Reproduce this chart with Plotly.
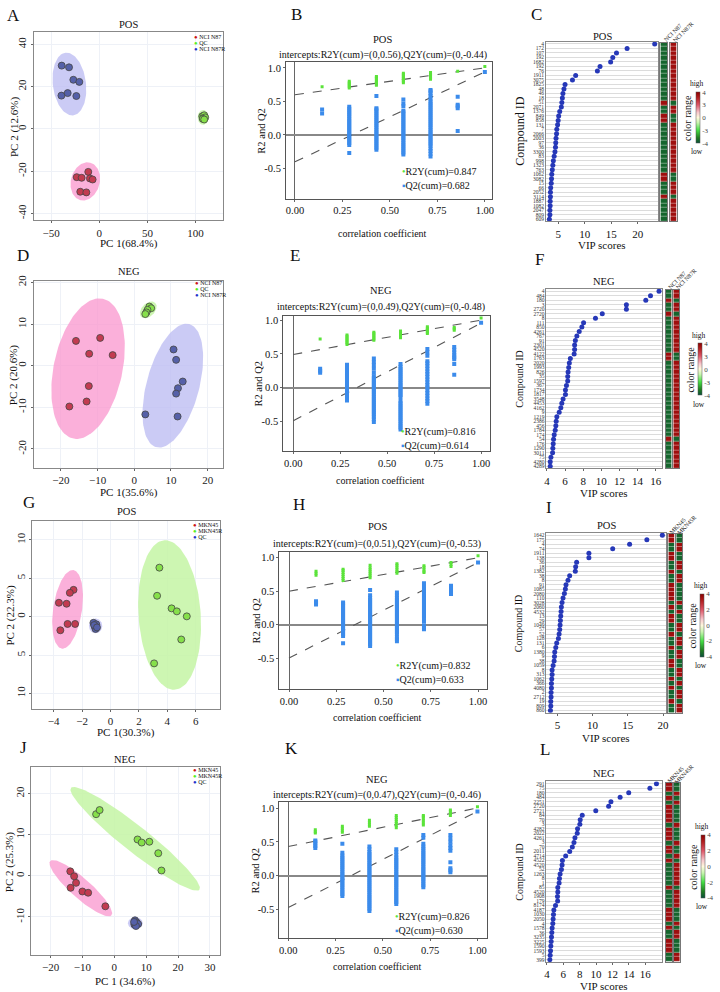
import numpy as np
import plotly.graph_objects as go

W, H = 720, 992
FONT = "Liberation Serif"

# ======================= DATA =======================
# ---- PCA score plots (A, D, G, J) ----
A_N87_X = [-11.4, -23.4, -18.3, -9.7, -6.9, -19.7, -13.4]
A_N87_Y = [-20.3, -22.8, -23.1, -23.4, -23.9, -29.7, -30.0]
A_QC_X = [107.0, 109.0, 108.0, 110.0, 107.5, 109.0]
A_QC_Y = [6.0, 6.5, 5.0, 5.5, 4.8, 4.5]
A_N87R_X = [-39.0, -31.4, -26.9, -20.7, -39.3, -32.8, -23.8]
A_N87R_Y = [30.0, 29.2, 23.3, 22.3, 15.8, 17.0, 15.6]
# ellipse: centre x, centre y, semi-axis a (px), semi-axis b (px), angle of a (deg)
A_N87_ELL = [-14.5, -24.8, 19.5, 14.5, 75]
A_QC_ELL = [107.9, 5.5, 7.5, 5.5, 90]
A_N87R_ELL = [-31.0, 21.3, 31.8, 16.7, 97]

D_N87_X = [-15.9, -9.3, -12.3, -5.9, -12.4, -13.0, -17.7]
D_N87_Y = [5.95, 6.67, 2.86, 2.54, -4.9, -8.6, -9.8]
D_QC_X = [4.1, 4.6, 3.6, 3.3, 3.0]
D_QC_Y = [14.2, 13.8, 13.4, 12.8, 12.4]
D_N87R_X = [10.7, 11.4, 13.2, 11.9, 11.4, 3.0, 11.8]
D_N87R_Y = [3.9, 1.4, -3.8, -5.4, -6.7, -11.7, -12.2]
D_N87_ELL = [-12.6, -0.7, 72, 34.6, 78]
D_QC_ELL = [3.8, 13.4, 10, 6.5, 45]
D_N87R_ELL = [10.5, -4.8, 64.2, 26.5, 75]

G_M45_X = [-2.6, -2.86, -3.63, -3.09, -3.02, -2.49, -3.53]
G_M45_Y = [3.49, 3.10, 1.81, 1.68, -0.95, -0.95, -1.77]
G_M45R_X = [3.44, 3.28, 4.30, 4.67, 5.37, 4.98, 3.07]
G_M45R_Y = [6.38, 2.72, 1.08, 0.69, 0.04, -2.97, -6.08]
G_QC_X = [-1.2, -1.0, -1.1, -1.05, -1.15, -0.95]
G_QC_Y = [-0.8, -1.0, -1.3, -1.6, -1.1, -1.4]
G_M45_ELL = [-3.02, 0.95, 40, 14.5, 81.6]
G_M45R_ELL = [4.16, 0.22, 75.5, 31.3, 94]
G_QC_ELL = [-1.05, -1.2, 7.5, 6.7, 90]

J_M45_X = [-13.8, -12.6, -12.0, -13.7, -10.0, -8.2, -2.8]
J_M45_Y = [1.1, -0.1, -1.7, -2.9, -3.8, -4.1, -7.4]
J_M45R_X = [-5.7, -4.6, 7.3, 8.6, 11.0, 13.8, 14.8]
J_M45R_Y = [15.0, 16.0, 8.85, 8.1, 8.3, 5.5, 1.3]
J_QC_X = [6.5, 7.0, 6.3, 7.5, 6.8, 6.2]
J_QC_Y = [-10.8, -11.3, -11.8, -11.7, -12.2, -11.2]
J_M45_ELL = [-10.5, -3.0, 41.2, 10, -41.6]
J_M45R_ELL = [6.55, 9.0, 82.5, 13, -38.4]
J_QC_ELL = [6.6, -11.5, 7.5, 6.0, 0]

# ---- permutation tests (B, E, H, K) ----
PERM_X = [0.143, 0.286, 0.429, 0.571, 0.714, 0.857, 1.0]
PERM_TICKS = [0.0, 0.25, 0.5, 0.75, 1.0]
PERM_TICKTEXT = ["0.00", "0.25", "0.50", "0.75", "1.00"]
PERM_YTICKS = [-0.5, 0.0, 0.5, 1.0]
PERM_YTICKTEXT = ["-0.5", "0.0", "0.5", "1.0"]

B_R2 = [[0.72], [0.70, 0.72, 0.74, 0.76, 0.78, 0.80],
        [0.74, 0.76, 0.78, 0.80, 0.82, 0.84, 0.86, 0.87],
        [0.78, 0.80, 0.82, 0.84, 0.86, 0.88, 0.90, 0.92],
        [0.83, 0.85, 0.87, 0.89, 0.91, 0.93], [0.95], [1.02]]
B_Q2 = [[0.32, 0.38],
        [-0.27, -0.15, -0.12, -0.09, -0.06, -0.03, 0.00, 0.03, 0.06, 0.09, 0.12, 0.15, 0.18, 0.21, 0.24, 0.27, 0.30, 0.33, 0.36, 0.39, 0.42],
        [-0.22, -0.19, -0.16, -0.13, -0.10, -0.07, -0.04, -0.01, 0.02, 0.05, 0.08, 0.11, 0.14, 0.17, 0.20, 0.23, 0.26, 0.29, 0.32, 0.35, 0.38, 0.40, 0.58],
        [-0.29, -0.26, -0.23, -0.20, -0.17, -0.14, -0.11, -0.08, -0.05, -0.02, 0.01, 0.04, 0.07, 0.10, 0.13, 0.16, 0.19, 0.22, 0.25, 0.28, 0.31, 0.34, 0.36, 0.43, 0.47, 0.53],
        [-0.32, -0.28, -0.24, -0.20, -0.16, -0.13, -0.10, -0.07, -0.04, -0.01, 0.02, 0.05, 0.08, 0.11, 0.14, 0.17, 0.20, 0.23, 0.26, 0.29, 0.32, 0.35, 0.38, 0.41, 0.44, 0.47, 0.50, 0.54, 0.58, 0.62, 0.65, 0.67],
        [0.06, 0.40, 0.43, 0.45, 0.57], [0.94]]
B_R2_LINE = [0.60, 1.0]
B_Q2_LINE = [-0.40, 0.94]

E_R2 = [[0.72], [0.64, 0.66, 0.68, 0.70, 0.72, 0.74, 0.76, 0.78],
        [0.70, 0.72, 0.74, 0.76, 0.78, 0.80, 0.82],
        [0.74, 0.76, 0.78, 0.80, 0.82, 0.84],
        [0.80, 0.82, 0.84, 0.86, 0.88, 0.90], [0.85, 0.87, 0.89], [1.03]]
E_Q2 = [[0.22, 0.25, 0.28],
        [-0.19, -0.15, -0.12, -0.09, -0.06, -0.03, 0.00, 0.03, 0.06, 0.09, 0.12, 0.15, 0.18, 0.21, 0.24, 0.27, 0.30, 0.34],
        [-0.51, -0.47, -0.43, -0.40, -0.37, -0.34, -0.31, -0.28, -0.25, -0.22, -0.19, -0.16, -0.13, -0.10, -0.07, -0.04, -0.01, 0.02, 0.05, 0.08, 0.11, 0.14, 0.17, 0.22, 0.28, 0.33, 0.38, 0.43],
        [-0.62, -0.59, -0.56, -0.53, -0.50, -0.47, -0.44, -0.41, -0.38, -0.35, -0.32, -0.29, -0.26, -0.23, -0.20, -0.14, -0.11, -0.08, -0.05, -0.02, 0.01, 0.04, 0.07, 0.10, 0.13, 0.16, 0.19, 0.22, 0.25, 0.28, 0.31, 0.35],
        [-0.24, -0.20, -0.16, -0.12, -0.08, -0.04, 0.00, 0.04, 0.08, 0.12, 0.16, 0.20, 0.24, 0.28, 0.32, 0.36, 0.39, 0.47, 0.52, 0.57],
        [0.19, 0.35, 0.42, 0.45, 0.48, 0.52, 0.56, 0.60], [0.96]]
E_R2_LINE = [0.49, 1.0]
E_Q2_LINE = [-0.49, 0.955]

H_R2 = [[0.74, 0.77, 0.80], [0.66, 0.69, 0.72, 0.75, 0.78, 0.81, 0.83],
        [0.70, 0.73, 0.76, 0.79, 0.82, 0.85, 0.89],
        [0.77, 0.80, 0.83, 0.86, 0.89, 0.91],
        [0.78, 0.80, 0.83, 0.86, 0.88], [0.87, 0.90, 0.93], [1.03]]
H_Q2 = [[0.30, 0.33, 0.35],
        [-0.28, -0.17, -0.14, -0.11, -0.08, -0.05, -0.02, 0.01, 0.04, 0.07, 0.10, 0.13, 0.16, 0.19, 0.22, 0.25, 0.28, 0.31, 0.33],
        [-0.32, -0.29, -0.26, -0.23, -0.20, -0.17, -0.14, -0.11, -0.08, -0.05, -0.02, 0.01, 0.04, 0.07, 0.10, 0.13, 0.16, 0.19, 0.22, 0.25, 0.28, 0.31, 0.34, 0.37, 0.40, 0.44, 0.52],
        [-0.25, -0.22, -0.19, -0.14, -0.11, -0.08, -0.05, -0.02, 0.01, 0.04, 0.07, 0.10, 0.13, 0.16, 0.19, 0.22, 0.25, 0.28, 0.31, 0.34, 0.37, 0.40, 0.44, 0.48],
        [-0.07, -0.04, -0.01, 0.05, 0.10, 0.13, 0.16, 0.19, 0.22, 0.25, 0.28, 0.31, 0.34, 0.37, 0.40, 0.43, 0.46, 0.50, 0.53, 0.57, 0.62],
        [0.46, 0.49, 0.52, 0.55, 0.58], [0.93]]
H_R2_LINE = [0.50, 1.0]
H_Q2_LINE = [-0.50, 0.93]

K_R2 = [[0.63, 0.65, 0.68], [0.64, 0.67, 0.70, 0.73], [0.73, 0.76, 0.79, 0.82],
        [0.71, 0.74, 0.77, 0.80, 0.83, 0.86, 0.89],
        [0.75, 0.78, 0.81, 0.84, 0.87, 0.89], [0.89, 0.92, 0.95, 0.97], [1.02]]
K_Q2 = [[0.41, 0.44, 0.47, 0.50, 0.52],
        [-0.30, -0.27, -0.24, -0.21, -0.18, -0.15, -0.12, -0.09, -0.06, -0.03, 0.00, 0.03, 0.06, 0.09, 0.12, 0.15, 0.18, 0.21, 0.24, 0.27, 0.30, 0.34, 0.47],
        [-0.52, -0.49, -0.46, -0.43, -0.40, -0.37, -0.34, -0.31, -0.28, -0.25, -0.22, -0.19, -0.16, -0.13, -0.10, -0.07, -0.04, -0.01, 0.02, 0.05, 0.08, 0.11, 0.14, 0.17, 0.20, 0.23, 0.26, 0.29, 0.32, 0.35, 0.39, 0.43],
        [-0.42, -0.39, -0.36, -0.33, -0.30, -0.27, -0.24, -0.21, -0.18, -0.15, -0.12, -0.09, -0.06, -0.03, 0.00, 0.03, 0.06, 0.09, 0.12, 0.15, 0.18, 0.21, 0.24, 0.27, 0.31, 0.35, 0.39],
        [-0.17, -0.14, -0.11, -0.08, -0.05, -0.02, 0.01, 0.04, 0.07, 0.10, 0.13, 0.16, 0.19, 0.22, 0.25, 0.28, 0.31, 0.34, 0.37, 0.40, 0.43, 0.47, 0.56, 0.60],
        [0.05, 0.08, 0.11, 0.20, 0.37, 0.41, 0.45, 0.50, 0.55, 0.60], [0.95]]
K_R2_LINE = [0.43, 1.0]
K_Q2_LINE = [-0.47, 0.95]

# ---- VIP plots (C, F, I, L) ----
C_VIP = [23.2, 18.0, 16.0, 15.3, 14.9, 12.9, 12.4, 8.3, 7.7, 6.3, 6.1, 5.9, 5.8, 5.7, 5.6, 5.3, 5.1, 5.0, 4.9, 4.75,
         4.7, 4.6, 4.55, 4.5, 4.4, 4.25, 4.1, 4.0, 3.9, 3.8, 3.75, 3.7, 3.6, 3.55, 3.55, 3.5, 3.5, 3.45, 3.45, 3.35]
C_IDS = ["4", "172", "107", "192", "1682", "192", "76", "1911", "3075", "1825", "48", "46", "18", "51", "2071", "1376",
         "849", "858", "131", "7", "2066", "2003", "97", "36", "3300", "83", "998", "1323", "763", "1062",
         "3082", "15", "66", "2052", "3114", "1887", "1082", "2047", "809", "609"]
C_HEAT = [-3.6] * 13 + [3.6] + [-3.6] * 2 + [3.6, 3.6] + [-3.6] * 11 + [3.6, 3.6] + [-3.6] * 3 + [3.6] + [-3.6] * 5

F_VIP = [16.36, 15.42, 14.9, 12.76, 12.76, 10.1, 9.35, 8.04, 7.85, 7.56, 7.3, 7.13, 7.05, 7.05, 7.0, 6.58, 6.47, 6.4,
         6.33, 6.29, 6.29, 6.15, 6.04, 6.04, 5.78, 5.64, 5.53, 5.35, 5.09, 5.02, 4.98, 4.91, 4.8, 4.73, 4.69, 4.65,
         4.62, 4.44, 4.36, 4.36]
F_IDS = ["4", "484", "180", "3", "2720", "2720", "8", "111", "850", "4261", "767", "91", "2301", "4520", "4122",
         "1763", "2020", "1993", "826", "35", "1597", "367", "1734", "1817", "3548", "4453", "4162", "9", "1219",
         "2386", "456", "1784", "174", "54", "176", "1290", "3011", "75", "4280", "4289"]
F_HEAT = [-3.6] * 2 + [3.6] + [-3.6] * 2 + [3.6] + [-3.6] * 8 + [3.6, 3.6] + [-3.6] * 17 + [3.6] + [-3.6] * 6

I_VIP = [19.9, 17.7, 15.25, 12.85, 9.47, 9.47, 7.73, 7.59, 7.54, 6.74, 6.5, 6.22, 6.13, 5.99, 5.8, 5.66, 5.56, 5.52,
         5.47, 5.42, 5.38, 5.33, 5.24, 5.14, 4.9, 4.77, 4.62, 4.58, 4.53, 4.39, 4.25, 4.25, 4.2, 4.15, 4.15, 4.1,
         4.1, 4.06, 4.06, 4.01]
I_IDS = ["1642", "175", "4", "74", "1911", "138", "36", "18", "1382", "38", "8", "91", "1085", "2080", "110", "3028",
         "2060", "4532", "13", "29", "1049", "57", "52", "128", "131", "6", "1380", "9", "38", "1059", "8", "313",
         "1062", "366", "4080", "2", "2712", "19", "809", "860"]
I_HEAT = [3.6, 3.6, -3.6, -3.6, 3.6, 3.6, -3.6, -3.6, 3.6, -3.6, -3.6, 3.6, 3.6, 3.6, 3.6, -3.6, 3.6, -3.6, 3.6, 3.6,
          -3.6, -3.6, 3.6, -3.6, -3.6, 3.6, -3.6, -3.6, 3.6, 3.6, -3.6, -3.6, 3.6, -3.6, 3.6, -3.6, -3.6, 3.6, -3.6, -3.6]

L_VIP = [17.36, 16.56, 13.98, 12.93, 11.81, 11.53, 9.96, 8.31, 8.06, 8.02, 7.74, 7.70, 7.42, 7.30, 7.10, 6.78, 6.29,
         5.89, 5.85, 5.77, 5.61, 5.53, 5.49, 5.33, 5.33, 5.29, 5.31, 5.05, 4.85, 4.80, 4.76, 4.72, 4.64, 4.60, 4.56,
         4.52, 4.48, 4.44, 4.40, 4.36]
L_IDS = ["291", "75", "180", "484", "2251", "2720", "2721", "84", "70", "3", "4282", "2022", "4261", "3", "70", "2011",
         "4714", "4522", "4520", "52", "1263", "8", "1", "85", "4520", "1908", "179", "8174", "4187", "1030", "2050",
         "4", "1578", "36", "3235", "3225", "1590", "1593", "5", "399"]
L_HEAT = [3.6, 3.6, -3.6, 3.6, -3.6, 3.6, 3.6, 3.6, 3.6, -3.6, 3.6, 3.6, 3.6, -3.6, 3.6, 3.6, -3.6, 3.6, -3.6, -3.6,
          -3.6, -3.6, -3.6, 3.6, -3.6, -3.6, -3.6, -3.6, 3.6, 3.6, 3.6, -3.6, 3.6, -3.6, -3.6, 3.6, 3.6, 3.6, -3.6, -3.6]

# ======================= STYLE =======================
RED, GREEN, BLUE = "#c23b50", "#86e04a", "#5560a8"
RED_FILL, GREEN_FILL, BLUE_FILL = "rgba(249,150,205,0.75)", "rgba(196,245,165,0.85)", "rgba(190,190,242,0.8)"
LEG_RED, LEG_GREEN, LEG_BLUE = "#cc1111", "#55ee22", "#2233cc"
R2_COL, Q2_COL = "#5be33a", "#3b8beb"
HEAT_SCALE = [[0.0, "#0b4f3a"], [0.1, "#1f7a1f"], [0.25, "#44dd44"], [0.4, "#c8f5b0"], [0.5, "#fff8dc"],
              [0.6, "#f7c6cc"], [0.75, "#dd5566"], [0.9, "#b01c1c"], [1.0, "#8b0000"]]

fig = go.Figure()
ANN = []
AXN = [0]


def px(x):
    return x / W


def py(y):
    return 1 - y / H


def txt(x, y, text, size, angle=0, color="#111", xanchor="center", yanchor="middle", borderpad=1):
    ANN.append(dict(x=px(x), y=py(y), xref="paper", yref="paper", text=text, showarrow=False,
                    font=dict(family=FONT, size=size, color=color), textangle=angle,
                    xanchor=xanchor, yanchor=yanchor, borderpad=borderpad))


def axes(box, xkw, ykw):
    AXN[0] += 1
    s = "" if AXN[0] == 1 else str(AXN[0])
    x0, x1, y0, y1 = box
    base = dict(showgrid=False, zeroline=False, showline=True, mirror=True, linewidth=1,
                linecolor="#888", ticks="outside", ticklen=2, tickwidth=1, tickcolor="#666",
                tickfont=dict(family=FONT, size=11, color="#222"))
    xa = dict(base); xa.update(domain=[px(x0), px(x1)], anchor="y" + s); xa.update(xkw)
    ya = dict(base); ya.update(domain=[py(y1), py(y0)], anchor="x" + s); ya.update(ykw)
    fig.update_layout({"xaxis" + s: xa, "yaxis" + s: ya})
    return "x" + s, "y" + s


def ellipse_xy(par, sx, sy):
    cx, cy, a, b, ang = par
    t = np.linspace(0, 2 * np.pi, 120)
    th = np.radians(ang)
    dx = a * np.cos(t) * np.cos(th) - b * np.sin(t) * np.sin(th)
    dy = a * np.cos(t) * np.sin(th) + b * np.sin(t) * np.cos(th)
    return cx + dx / sx, cy + dy / sy


def pca_panel(box, xr, yr, xt, yt, ytt, groups, legend, title, xlab, ylab, letter, lpos, ty, xly, ylx, legpos):
    xa, ya = axes(box,
                  dict(range=xr, tickvals=xt, showgrid=True, gridcolor="#eef1f7"),
                  dict(range=yr, tickvals=yt, ticktext=ytt, tickangle=-90, showgrid=True, gridcolor="#eef1f7"))
    sx = (box[1] - box[0]) / (xr[1] - xr[0])
    sy = (box[3] - box[2]) / (yr[1] - yr[0])
    for gx, gy, col, fill, ell in groups:
        ex, ey = ellipse_xy(ell, sx, sy)
        fig.add_trace(go.Scatter(x=ex, y=ey, xaxis=xa, yaxis=ya, mode="lines", fill="toself",
                                 fillcolor=fill, line=dict(width=0), hoverinfo="skip"))
    for gx, gy, col, fill, ell in groups:
        fig.add_trace(go.Scatter(x=gx, y=gy, xaxis=xa, yaxis=ya, mode="markers",
                                 marker=dict(size=7, color=col, line=dict(width=0.8, color="#444"))))
    cx = (box[0] + box[1]) / 2
    txt(cx, ty, title, 10.5)
    txt(cx, xly, xlab, 11)
    txt(ylx, (box[2] + box[3]) / 2, ylab, 11, angle=-90)
    txt(lpos[0], lpos[1], letter, 17)
    for i, (name, col) in enumerate(legend):
        txt(legpos[0], legpos[1] + i * 6, '<span style="color:%s">●</span> %s' % (col, name), 6, xanchor="left")


def perm_panel(box, xr, yr, r2, q2, r2line, q2line, title, sub, r2txt, q2txt, letter, lpos, ty, sy_, xly, ylx, legpos):
    xa, ya = axes(box,
                  dict(range=xr, tickvals=PERM_TICKS, ticktext=PERM_TICKTEXT, linecolor="#555",
                       zeroline=True, zerolinecolor="#666", zerolinewidth=1, tickfont=dict(family=FONT, size=10.5)),
                  dict(range=yr, tickvals=PERM_YTICKS, ticktext=PERM_YTICKTEXT, linecolor="#555",
                       zeroline=True, zerolinecolor="#888", zerolinewidth=1.5, tickfont=dict(family=FONT, size=10.5)))
    fig.add_trace(go.Scatter(x=[0, 1], y=r2line, xaxis=xa, yaxis=ya, mode="lines",
                             line=dict(color="#555", width=1.1, dash="dash")))
    fig.add_trace(go.Scatter(x=[0, 1], y=q2line, xaxis=xa, yaxis=ya, mode="lines",
                             line=dict(color="#555", width=1.1, dash="dash")))
    qx = [PERM_X[i] for i, v in enumerate(q2) for _ in v]
    qy = [y for v in q2 for y in v]
    rx = [PERM_X[i] for i, v in enumerate(r2) for _ in v]
    ry = [y for v in r2 for y in v]
    fig.add_trace(go.Scatter(x=qx, y=qy, xaxis=xa, yaxis=ya, mode="markers",
                             marker=dict(symbol="square", size=4, color=Q2_COL, line=dict(width=0))))
    fig.add_trace(go.Scatter(x=rx, y=ry, xaxis=xa, yaxis=ya, mode="markers",
                             marker=dict(symbol="square", size=3, color=R2_COL, line=dict(width=0))))
    cx = (box[0] + box[1]) / 2
    txt(cx - 6, ty, title, 10.5)
    txt(cx - 6, sy_, sub, 10)
    txt(cx - 6, xly, "correlation coefficient", 10)
    txt(ylx, (box[2] + box[3]) / 2, "R2 and Q2", 10.5, angle=-90)
    txt(lpos[0], lpos[1], letter, 17)
    txt(legpos[0], legpos[1] + 0.5, '<span style="color:%s">•</span>%s' % (R2_COL, r2txt), 10,
        xanchor="left", yanchor="bottom", borderpad=0)
    txt(legpos[0], legpos[1] + 0.5, '<span style="color:%s">▪</span>%s' % (Q2_COL, q2txt), 10,
        xanchor="left", yanchor="top", borderpad=0)


def vip_panel(box, xr, xt, vals, ids, heat, hbox1, hbox2, colnames, cb, cbtext, title, letter, lpos, ty,
              xly, ylx, cid_size):
    n = len(vals)
    rows = list(range(n))
    yrng = [n - 0.5, -0.5]
    xa, ya = axes(box,
                  dict(range=xr, tickvals=xt, tickfont=dict(family=FONT, size=11)),
                  dict(range=yrng, tickvals=rows, ticktext=ids, ticks="", showgrid=True,
                       gridcolor="#dcdcdc", gridwidth=1, tickfont=dict(family=FONT, size=5.5, color="#333")))
    fig.add_trace(go.Scatter(x=vals, y=rows, xaxis=xa, yaxis=ya, mode="markers",
                             marker=dict(size=5, color="#2638b8")))
    cols = [heat, [-v for v in heat]]
    for k, hb in enumerate([hbox1, hbox2]):
        hx, hy = axes(hb, dict(range=[-0.5, 0.5], ticks="", showticklabels=False, linecolor="#777"),
                      dict(range=yrng, ticks="", showticklabels=False, linecolor="#777"))
        trace = go.Heatmap(z=[[v] for v in cols[k]], x=[0], y=rows, xaxis=hx, yaxis=hy,
                           colorscale=HEAT_SCALE, zmin=-4, zmax=4, ygap=0.4,
                           showscale=(k == 0))
        if k == 0:
            trace.colorbar = dict(x=px(cb[0]), xanchor="left", y=py((cb[2] + cb[3]) / 2), yanchor="middle",
                                  len=cb[3] - cb[2], lenmode="pixels", thickness=cb[1] - cb[0],
                                  thicknessmode="pixels", xpad=0, ypad=0, outlinewidth=0.5, outlinecolor="#555",
                                  tickvals=[4, 2, 0, -2, -4], ticktext=cbtext, ticks="",
                                  tickfont=dict(family=FONT, size=7, color="#444"))
        fig.add_trace(trace)
        ccx = (hb[0] + hb[1]) / 2
        L = len(colnames[k]) * 3.1
        txt(ccx + L * 0.36 + 1, hb[2] - L * 0.36 - 2, colnames[k], 6, angle=-45)
    txt(cb[0] + 1, cb[2] - 8.5, "high", 7.5)
    txt(cb[0] + 1, cb[3] + 9, "low", 7.5)
    txt(cb[0] - 8, (cb[2] + cb[3]) / 2, "color range", 10, angle=-90)
    cx = (box[0] + box[1]) / 2
    txt(cx, ty, title, 10.5)
    txt(cx, xly, "VIP scores", 11)
    txt(ylx, (box[2] + box[3]) / 2, "Compound ID", cid_size, angle=-90)
    txt(lpos[0], lpos[1], letter, 17)


# ======================= PANELS =======================
LEG1 = [("NCI N87", LEG_RED), ("QC", LEG_GREEN), ("NCI N87R", LEG_BLUE)]
LEG2 = [("MKN45", LEG_RED), ("MKN45R", LEG_GREEN), ("QC", LEG_BLUE)]

pca_panel((32, 223, 26, 216), [-68, 129], [-43.3, 46], [-50, 0, 50, 100], [-40, -20, 0, 20, 40],
          ["-40", "-20", "0", "20", "40"],
          [(A_N87_X, A_N87_Y, RED, RED_FILL, A_N87_ELL), (A_QC_X, A_QC_Y, GREEN, GREEN_FILL, A_QC_ELL),
           (A_N87R_X, A_N87R_Y, BLUE, BLUE_FILL, A_N87R_ELL)],
          LEG1, "POS", "PC 1(68.4%)", "PC 2 (12.6%)", "A", (12, 10), 19, 239.5, 12, (191.5, 31))

pca_panel((32, 223, 276.7, 465), [-27.4, 24.3], [-24.5, 20.4], [-20, -10, 0, 10, 20], [-20, -10, 0, 10, 20],
          ["-20", "-10", "0", "10", "20"],
          [(D_N87_X, D_N87_Y, RED, RED_FILL, D_N87_ELL), (D_QC_X, D_QC_Y, GREEN, GREEN_FILL, D_QC_ELL),
           (D_N87R_X, D_N87R_Y, BLUE, BLUE_FILL, D_N87R_ELL)],
          LEG1, "NEG", "PC 1(35.6%)", "PC 2 (20.6%)", "D", (21, 251), 267.7, 490, 11, (192.5, 279))

pca_panel((30.7, 220, 518.3, 707.7), [-5.49, 7.74], [-11.98, 12.5], [-4, -2, 0, 2, 4, 6], [-10, -5, 0, 5, 10],
          ["10", "5", "0", "5", "10"],
          [(G_M45_X, G_M45_Y, RED, RED_FILL, G_M45_ELL), (G_M45R_X, G_M45R_Y, GREEN, GREEN_FILL, G_M45R_ELL),
           (G_QC_X, G_QC_Y, BLUE, BLUE_FILL, G_QC_ELL)],
          LEG2, "POS", "PC 1(30.3%)", "PC 2 (22.3%)", "G", (27, 500), 509, 731.5, 9, (190.5, 522.3))

pca_panel((29.3, 219.3, 766.7, 956), [-26.1, 33.1], [-19.3, 26.4], [-20, -10, 0, 10, 20, 30], [-10, 0, 10, 20],
          ["-10", "0", "10", "20"],
          [(J_M45_X, J_M45_Y, RED, RED_FILL, J_M45_ELL), (J_M45R_X, J_M45R_Y, GREEN, GREEN_FILL, J_M45R_ELL),
           (J_QC_X, J_QC_Y, BLUE, BLUE_FILL, J_QC_ELL)],
          LEG2, "NEG", "PC 1 (34.6%)", "PC 2 (25.3%)", "J", (22, 747), 759, 982.5, 7, (190, 769.7))

perm_panel((286, 493.3, 56.7, 194), [-0.047, 1.037], [-0.948, 1.083], B_R2, B_Q2, B_R2_LINE, B_Q2_LINE, "POS",
           "intercepts:R2Y(cum)=(0,0.56),Q2Y(cum)=(0,-0.44)", "R2Y(cum)=0.847", "Q2(cum)=0.682",
           "B", (297, 9), 34, 49, 229.5, 261, (402, 173.5))
perm_panel((283.3, 491.7, 311.7, 448.3), [-0.053, 1.049], [-0.941, 1.068], E_R2, E_Q2, E_R2_LINE, E_Q2_LINE, "NEG",
           "intercepts:R2Y(cum)=(0,0.49),Q2Y(cum)=(0,-0.48)", "R2Y(cum)=0.816", "Q2(cum)=0.614",
           "E", (295, 251), 286.7, 302.7, 478, 258, (401, 435.5))
perm_panel((279.3, 488.7, 550, 688.3), [-0.051, 1.049], [-0.97, 1.085], H_R2, H_Q2, H_R2_LINE, H_Q2_LINE, "POS",
           "intercepts:R2Y(cum)=(0,0.51),Q2Y(cum)=(0,-0.53)", "R2Y(cum)=0.832", "Q2(cum)=0.633",
           "H", (299, 502), 524.3, 542.3, 717, 256.5, (395.5, 671.2))
perm_panel((279.3, 488.3, 801.7, 939), [-0.047, 1.05], [-0.926, 1.088], K_R2, K_Q2, K_R2_LINE, K_Q2_LINE, "NEG",
           "intercepts:R2Y(cum)=(0,0.47),Q2Y(cum)=(0,-0.46)", "R2Y(cum)=0.826", "Q2(cum)=0.630",
           "K", (292, 748), 779.3, 795, 967.5, 255, (394.5, 923.8))

vip_panel((548, 661, 36, 217), [2.75, 23.9], [5, 10, 15, 20], C_VIP, C_IDS, C_HEAT,
          (663, 670, 37, 217), (673, 679.5, 37, 217), ["NCI N87", "NCI N87R"], (699, 703, 87, 138),
          ["4", "3", "0", "-3", "-4"], "POS", "C", (538, 9), 30.7, 241, 521.7, 12)
vip_panel((548.3, 665, 285, 465.7), [3.95, 16.73], [4, 6, 8, 10, 12, 14, 16], F_VIP, F_IDS, F_HEAT,
          (668.3, 674.3, 285.7, 465.7), (676, 682, 285.7, 465.7), ["NCI N87", "NCI N87R"], (701, 705, 340, 392),
          ["4", "3", "0", "-3", "-4"], "NEG", "F", (541.7, 255), 277.3, 490.5, 521.7, 10)
vip_panel((548.3, 668.3, 530.7, 711.7), [3.45, 20.37], [5, 10, 15, 20], I_VIP, I_IDS, I_HEAT,
          (671, 677.3, 531.7, 711.7), (679, 685, 531.7, 711.7), ["MKN45", "MKN45R"], (703.3, 707.3, 592, 655),
          ["4", "2", "0", "-2", "-4"], "POS", "I", (550.7, 505), 522.7, 737, 520, 10)
vip_panel((548.3, 664.3, 781, 962.7), [3.95, 18.0], [4, 6, 8, 10, 12, 14, 16], L_VIP, L_IDS, L_HEAT,
          (668.3, 675, 782.3, 962.3), (676.3, 682.7, 782.3, 962.3), ["MKN45", "MKN45R"], (704.3, 708, 835, 898),
          ["4", "2", "0", "-2", "-4"], "NEG", "L", (546.7, 749), 772.7, 987, 521.7, 10)

fig.update_layout(width=W, height=H, margin=dict(l=0, r=0, t=0, b=0), autosize=False,
                  paper_bgcolor="white", plot_bgcolor="white", showlegend=False,
                  annotations=ANN, font=dict(family=FONT, color="#111"))

fig.write_html("out.html", config={"displayModeBar": False},
               post_script="document.body.style.margin='0px';")
